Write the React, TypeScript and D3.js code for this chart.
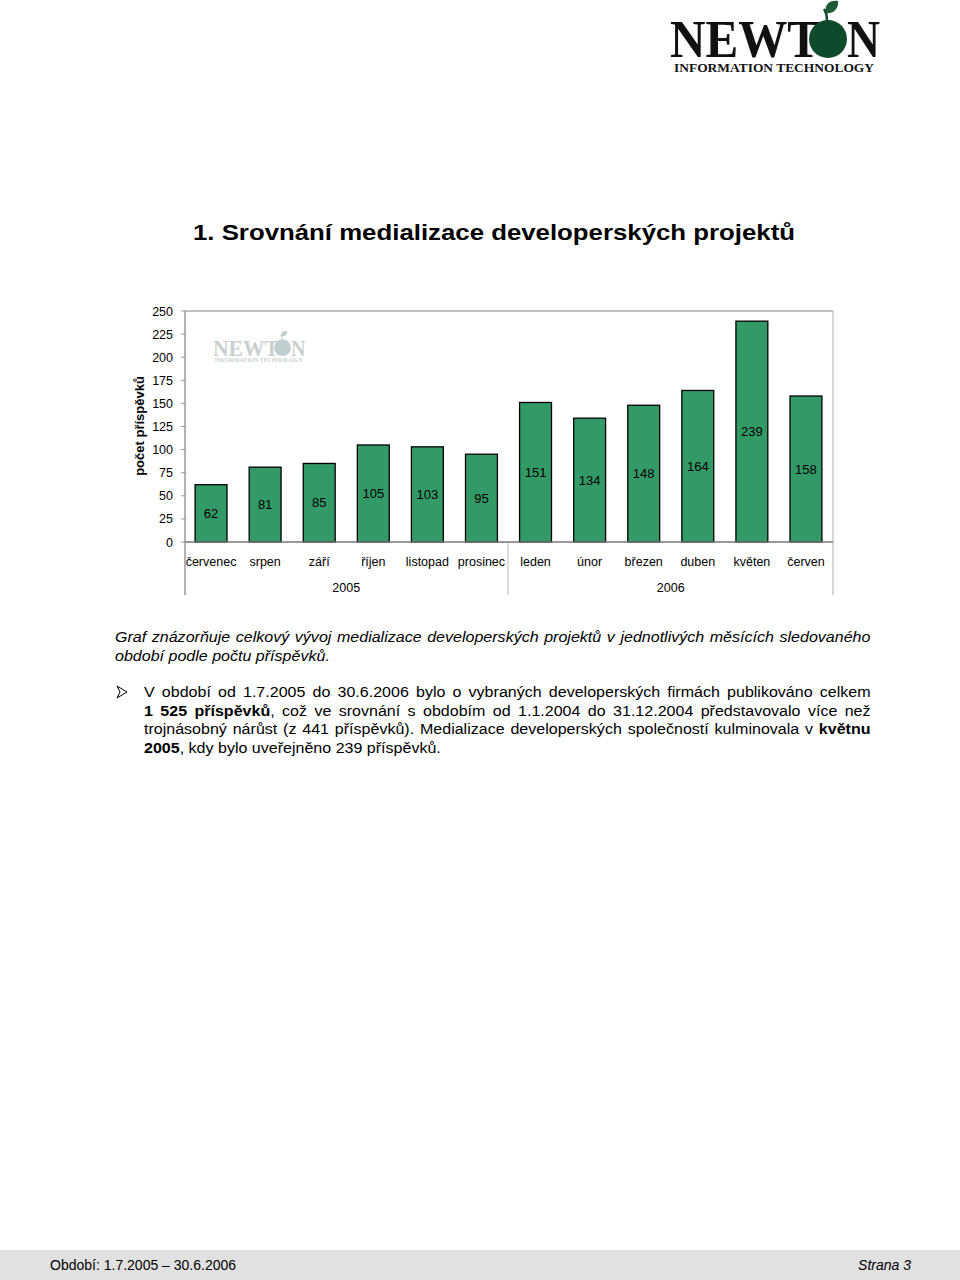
import React from "react";
import * as d3 from "d3";

const months = ["červenec", "srpen", "září", "říjen", "listopad", "prosinec", "leden", "únor", "březen", "duben", "květen", "červen"];
const values = [62, 81, 85, 105, 103, 95, 151, 134, 148, 164, 239, 158];
const years = [
  { label: "2005", from: 0, to: 5 },
  { label: "2006", from: 6, to: 11 },
];
const yTicks = [0, 25, 50, 75, 100, 125, 150, 175, 200, 225, 250];

const SANS = "'Liberation Sans', Arial, sans-serif";
const SERIF = "'Liberation Serif', 'Times New Roman', serif";

type Seg = { t: string; b?: boolean };

let ctx: CanvasRenderingContext2D | null = null;
function measure(text: string, size: number, bold: boolean, italic: boolean) {
  if (!ctx) ctx = document.createElement("canvas").getContext("2d");
  if (!ctx) return text.length * size * 0.5;
  ctx.font = `${italic ? "italic " : ""}${bold ? "bold " : ""}${size}px "Liberation Sans"`;
  return ctx.measureText(text).width;
}
function natural(segs: Seg[], size: number, italic: boolean) {
  return segs.reduce((a, s) => a + measure(s.t, size, !!s.b, italic), 0);
}

function JLine({ x, y, segs, size, italic, width, k }: { x: number; y: number; segs: Seg[]; size: number; italic?: boolean; width?: number; k: number }) {
  let ws = 0;
  if (width) {
    const nat = natural(segs, size, !!italic);
    const spaces = segs.reduce((a, s) => a + (s.t.match(/ /g) || []).length, 0);
    ws = spaces ? (width / k - nat) / spaces : 0;
  }
  return (
    <g transform={`translate(${x},${y}) scale(${k},1)`}>
      <text x={0} y={0} fontSize={size} fontStyle={italic ? "italic" : "normal"} fill="#000" wordSpacing={ws} style={{ whiteSpace: "pre" }}>
        {segs.map((s, i) => (
          <tspan key={i} fontWeight={s.b ? "bold" : "normal"}>{s.t}</tspan>
        ))}
      </text>
    </g>
  );
}

function Logo({ x, y, s, ink, apple, leaf }: { x: number; y: number; s: number; ink: string; apple: string; leaf: string }) {
  return (
    <g transform={`translate(${x},${y}) scale(${s})`}>
      <text x={0} y={56} fontFamily={SERIF} fontWeight="bold" fontSize={52} fill={ink} textLength={150} lengthAdjust="spacingAndGlyphs">NEWT</text>
      <circle cx={158} cy={38} r={19} fill={apple} />
      <path d="M157,20 C157,15 156,11 154,8" stroke={apple} strokeWidth={2.5} fill="none" />
      <path d="M156,12 C154,3 160,-1 168,0 C169,8 163,13 156,12 Z" fill={leaf} />
      <text x={177} y={56} fontFamily={SERIF} fontWeight="bold" fontSize={52} fill={ink} textLength={33} lengthAdjust="spacingAndGlyphs">N</text>
      <text x={4} y={71} fontFamily={SERIF} fontWeight="bold" fontSize={12.5} fill={ink} textLength={200} lengthAdjust="spacingAndGlyphs">INFORMATION TECHNOLOGY</text>
    </g>
  );
}

const lineA: Seg[] = [{ t: "Graf znázorňuje celkový vývoj medializace developerských projektů v jednotlivých měsících sledovaného" }];
const lineB: Seg[] = [{ t: "období podle počtu příspěvků." }];
const line1: Seg[] = [{ t: "V období od 1.7.2005 do 30.6.2006 bylo o vybraných developerských firmách publikováno celkem" }];
const line2: Seg[] = [{ t: "1 525 příspěvků", b: true }, { t: ", což ve srovnání s obdobím od 1.1.2004 do 31.12.2004 představovalo více než" }];
const line3: Seg[] = [{ t: "trojnásobný nárůst (z 441 příspěvků). Medializace developerských společností kulminovala v " }, { t: "květnu", b: true }];
const line4: Seg[] = [{ t: "2005", b: true }, { t: ", kdy bylo uveřejněno 239 příspěvků." }];

export default function App() {
  const left = 184;
  const right = 833;
  const top = 311;
  const base = 542;
  const x = d3.scaleBand<string>().domain(months).range([left, right]).paddingInner(0.41).paddingOuter(0.205);
  const y = d3.scaleLinear().domain([0, 250]).range([base, top]);
  const axisX = 185;

  const para = 14.5;
  const kN = 297 / natural(line4, para, false);
  const kI = 215 / natural(lineB, para, true);
  return (
    <svg width={960} height={1280} style={{ position: "absolute", left: 0, top: 0 }} fontFamily={SANS}>
      <rect x={0} y={0} width={960} height={1280} fill="#fff" />
      <Logo x={670} y={1} s={1} ink="#111" apple="#0f4a2c" leaf="#1d5a36" />

      <text x={193} y={240} fontSize={22} fontWeight="bold" fill="#000" textLength={602} lengthAdjust="spacingAndGlyphs">
        1. Srovnání medializace developerských projektů
      </text>

      {/* plot frame */}
      <line x1={axisX} x2={right} y1={top} y2={top} stroke="#aaa" strokeWidth={1.5} />
      <line x1={right} x2={right} y1={top} y2={595} stroke="#bbb" strokeWidth={1.2} />
      <line x1={axisX} x2={axisX} y1={top} y2={595} stroke="#999" strokeWidth={1.5} />
      <line x1={508} x2={508} y1={base} y2={595} stroke="#bbb" strokeWidth={1} />

      {/* watermark */}
      <g opacity={0.9}>
        <Logo x={213} y={331} s={0.44} ink="#c5cccc" apple="#b9c9c9" leaf="#b9c9c9" />
      </g>

      {/* y axis */}
      {yTicks.map((t) => (
        <g key={t}>
          <line x1={axisX - 4} x2={axisX} y1={y(t)} y2={y(t)} stroke="#999" />
          <text x={173} y={y(t) + 4.5} fontSize={12.5} textAnchor="end" fill="#000">{t}</text>
        </g>
      ))}
      <text transform={`translate(144,${426}) rotate(-90)`} fontSize={13} fontWeight="bold" textAnchor="middle" fill="#000">
        počet příspěvků
      </text>

      {/* bars */}
      {months.map((m, i) => {
        const bx = x(m)!;
        const by = y(values[i]);
        return (
          <g key={m}>
            <rect x={bx} y={by} width={x.bandwidth()} height={base - by} fill="#339966" stroke="#000" strokeWidth={1.3} />
            <text x={bx + x.bandwidth() / 2} y={(by + base) / 2 + 4.5} fontSize={13} textAnchor="middle" fill="#000">
              {values[i]}
            </text>
          </g>
        );
      })}
      <line x1={axisX} x2={right} y1={base} y2={base} stroke="#777" strokeWidth={1.5} />

      {/* category labels */}
      {months.map((m) => (
        <text key={m} x={x(m)! + x.bandwidth() / 2} y={566} fontSize={12.5} textAnchor="middle" fill="#000">{m}</text>
      ))}
      {years.map((yr) => {
        const cx = (x(months[yr.from])! + x(months[yr.to])! + x.bandwidth()) / 2;
        return (
          <text key={yr.label} x={cx} y={592} fontSize={12.5} textAnchor="middle" fill="#000">{yr.label}</text>
        );
      })}

      {/* description */}
      <JLine x={115} y={642} size={para} italic width={756} k={kI} segs={lineA} />
      <JLine x={115} y={661} size={para} italic k={kI} segs={lineB} />

      <path d="M117,686 L127,692 L117,698 L120,692 Z" fill="none" stroke="#000" strokeWidth={1} />
      <JLine x={144} y={697} size={para} width={727} k={kN} segs={line1} />
      <JLine x={144} y={716} size={para} width={727} k={kN} segs={line2} />
      <JLine x={144} y={734} size={para} width={727} k={kN} segs={line3} />
      <JLine x={144} y={753} size={para} k={kN} segs={line4} />

      {/* footer */}
      <rect x={0} y={1250} width={960} height={30} fill="#e1e1e1" />
      <text x={50} y={1270} fontSize={14} fill="#000">Období: 1.7.2005 – 30.6.2006</text>
      <text x={911} y={1270} fontSize={14} fontStyle="italic" textAnchor="end" fill="#000">Strana 3</text>
    </svg>
  );
}
